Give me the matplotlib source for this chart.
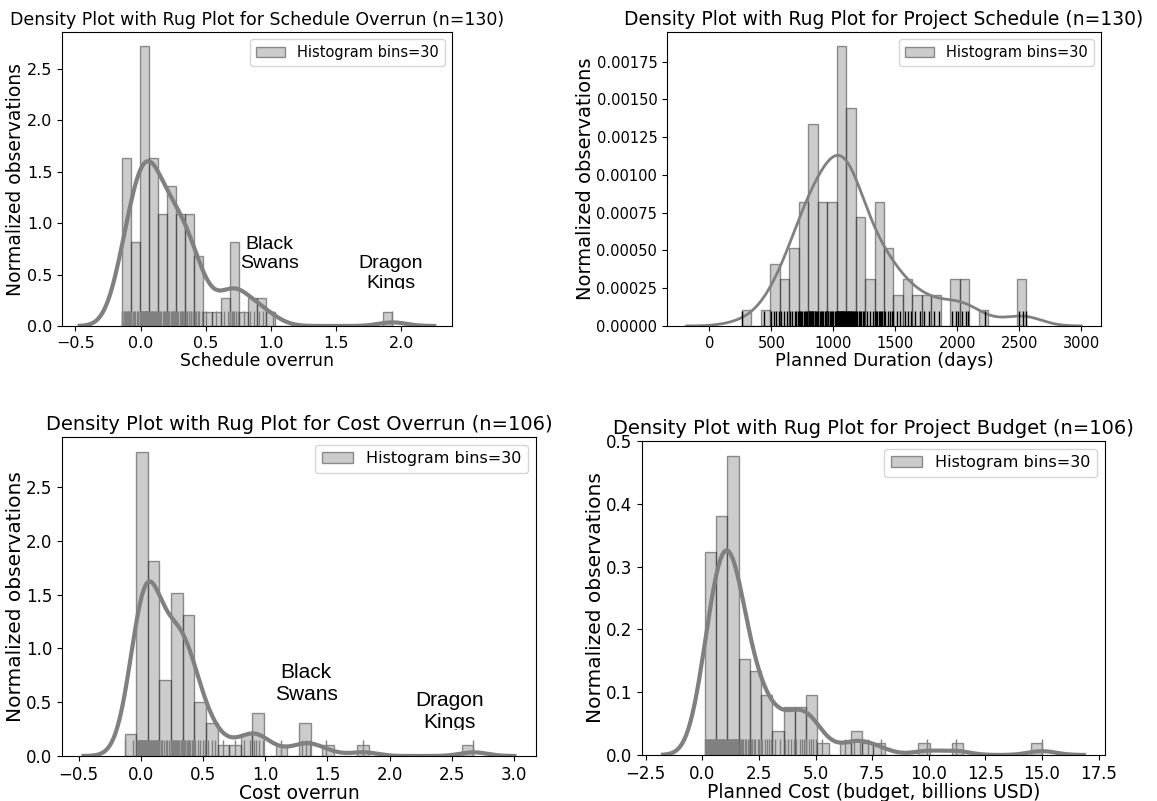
import numpy as np
import matplotlib.pyplot as plt
import seaborn as sns
from matplotlib.transforms import Bbox, TransformedBbox

schedule_overrun = [
    -0.146, -0.14, -0.13, -0.125, -0.12, -0.11, -0.105, -0.10, -0.095, -0.09, -0.085, -0.08,
    -0.07, -0.06, -0.05, -0.04, -0.03, -0.02,
    -0.005, 0.0, 0.0, 0.003, 0.008, 0.01, 0.013, 0.017, 0.02, 0.024,
    0.028, 0.031, 0.035, 0.038, 0.042, 0.045, 0.05, 0.053, 0.057, 0.06,
    0.065, 0.07, 0.075, 0.08, 0.085, 0.09, 0.095, 0.10, 0.108, 0.115, 0.12, 0.128,
    0.135, 0.14, 0.15, 0.16, 0.17, 0.18, 0.19, 0.197,
    0.205, 0.21, 0.215, 0.22, 0.23, 0.24, 0.245, 0.25, 0.26, 0.265,
    0.275, 0.28, 0.29, 0.30, 0.31, 0.32, 0.325, 0.335,
    0.345, 0.35, 0.36, 0.37, 0.375, 0.385, 0.39, 0.40,
    0.415, 0.425, 0.44, 0.45, 0.47,
    0.50, 0.58, 0.64, 0.67,
    0.69, 0.70, 0.71, 0.72, 0.73, 0.745,
    0.79, 0.84, 0.87, 0.91, 0.94, 1.02,
    1.933,
]

planned_duration = [
    262, 440,
    500, 520, 540, 560,
    580, 600, 630,
    650, 670, 690, 700, 715,
    725, 730, 740, 750, 760, 770, 780, 790,
    800, 805, 810, 815, 820, 825, 830, 835, 840, 850, 855, 860, 870,
    880, 890, 900, 910, 920, 930, 940, 945,
    955, 960, 970, 980, 990, 1000, 1010, 1020,
    1030, 1033, 1037, 1040, 1043, 1047, 1050, 1055, 1060, 1064, 1068, 1072, 1076, 1080,
    1085, 1090, 1095, 1100,
    1106, 1110, 1115, 1120, 1125, 1130, 1135, 1140, 1145, 1150, 1155, 1160, 1168, 1175,
    1185, 1195, 1205, 1215, 1225, 1240, 1250,
    1270, 1295, 1320,
    1337, 1345, 1355, 1365, 1375, 1385, 1395, 1405,
    1420, 1440, 1460, 1475, 1482,
    1510, 1540, 1580, 1600, 1625, 1660, 1700, 1730, 1770, 1810, 1850,
    1960, 1990, 2010, 2040, 2070, 2090, 2220,
    2500, 2530, 2556,
]

cost_overrun = [
    -0.13, -0.06,
    -0.03, -0.027, -0.024, -0.02, -0.017, -0.013, -0.01, -0.006, -0.003, 0.0,
    0.0, 0.002, 0.005, 0.008, 0.011, 0.014, 0.017, 0.02, 0.023, 0.026,
    0.029, 0.032, 0.035, 0.038, 0.041, 0.045, 0.048, 0.052,
    0.06, 0.065, 0.07, 0.075, 0.08, 0.085, 0.09, 0.095, 0.10, 0.105,
    0.11, 0.115, 0.12, 0.125, 0.13, 0.135, 0.14, 0.145,
    0.16, 0.17, 0.185, 0.20, 0.21, 0.225, 0.24,
    0.248, 0.255, 0.26, 0.265, 0.27, 0.275, 0.28, 0.29, 0.295, 0.30,
    0.305, 0.31, 0.32, 0.325, 0.333,
    0.341, 0.345, 0.35, 0.355, 0.36, 0.37, 0.375, 0.38, 0.39, 0.40, 0.41, 0.42, 0.428,
    0.44, 0.46, 0.48, 0.50, 0.52,
    0.54, 0.57, 0.60, 0.66, 0.76, 0.83, 0.88,
    0.91, 0.93, 0.95, 0.98,
    1.13, 1.30, 1.33, 1.36, 1.49, 1.79,
    2.675,
]

planned_cost = [
    0.12, 0.15, 0.18, 0.2, 0.23, 0.25, 0.28, 0.3, 0.33, 0.36, 0.4, 0.43, 0.46, 0.5, 0.53, 0.56, 0.6,
    0.62, 0.65, 0.67, 0.7, 0.72, 0.74, 0.76, 0.78, 0.8, 0.82,
    0.85, 0.87, 0.9, 0.92, 0.95, 0.98, 1.0, 1.03, 1.06, 1.1,
    1.12, 1.14, 1.16, 1.18, 1.2, 1.22, 1.24, 1.26, 1.28, 1.3, 1.32, 1.34, 1.36,
    1.38, 1.4, 1.42, 1.44, 1.46, 1.48, 1.5, 1.52, 1.54, 1.56, 1.58, 1.6,
    1.65, 1.7, 1.75, 1.8, 1.88, 1.95, 2.0, 2.08,
    2.15, 2.2, 2.3, 2.35, 2.45, 2.5, 2.58,
    2.65, 2.75, 2.85, 2.95, 3.05,
    3.2, 3.45,
    3.65, 3.8, 3.9, 4.05,
    4.15, 4.3, 4.4, 4.5,
    4.6, 4.7, 4.8, 4.9, 5.0,
    5.3, 6.3, 6.7, 6.95, 7.3, 7.9, 9.9, 11.2, 15.0,
]

titles = [
    "Density Plot with Rug Plot for Schedule Overrun (n=130)",
    "Density Plot with Rug Plot for Project Schedule (n=130)",
    "Density Plot with Rug Plot for Cost Overrun (n=106)",
    "Density Plot with Rug Plot for Project Budget (n=106)",
]
xlabels = ["Schedule overrun", "Planned Duration (days)",
           "Cost overrun", "Planned Cost (budget, billions USD)"]
ylabel = "Normalized observations"
legend_label = "Histogram bins=30"

W, H = 1157, 801
fig = plt.figure(figsize=(W / 100, H / 100), dpi=100)


def sm_bandwidth(x):
    # statsmodels "scott" rule, as used by the old seaborn distplot
    x = np.asarray(x, float)
    sd = x.std(ddof=1)
    iqr = np.percentile(x, 75) - np.percentile(x, 25)
    return 1.059 * min(sd, iqr / 1.349) * len(x) ** -0.2


def panel(box, data, title, xlabel, rug_color, kde_lw, tick_fs, label_fs,
          title_fs, leg_fs, xpad=1):
    l, t, r, b = box
    ax = fig.add_axes([l / W, 1 - b / H, (r - l) / W, (b - t) / H])
    x = np.asarray(data, float)
    ax.hist(x, bins=30, density=True, facecolor="gray", edgecolor="black",
            alpha=0.4, linewidth=1, label=legend_label)
    factor = sm_bandwidth(x) / x.std(ddof=1)
    sns.kdeplot(x=x, ax=ax, bw_method=factor, cut=3, gridsize=200,
                color="gray", lw=kde_lw)
    sns.rugplot(x=x, ax=ax, height=0.05, color=rug_color, lw=1,
                expand_margins=False)
    ax.set_ylim(bottom=0)
    ax.set_title(title, fontsize=title_fs, pad=5)
    ax.set_xlabel(xlabel, fontsize=label_fs, labelpad=xpad)
    ax.set_ylabel(ylabel, fontsize=label_fs + 1, labelpad=1)
    ax.tick_params(labelsize=tick_fs)
    ax.legend(loc="upper right", fontsize=leg_fs)
    return ax


def note(ax, x, y, txt, fs, clip_y=None):
    t = ax.text(x, y, txt, ha="center", va="center", fontsize=fs,
                family="Liberation Sans", linespacing=1.2)
    if clip_y is not None:
        bb = TransformedBbox(Bbox([[-10, clip_y], [100, 100]]), ax.transData)
        t.set_clip_box(bb)
        t.set_clip_on(True)


ax1 = panel((62, 32, 452, 326), schedule_overrun, titles[0], xlabels[0],
            "gray", 3, 11.5, 12.5, 12.5, 10.5)
note(ax1, 0.99, 0.70, "Black\nSwans", 14)
note(ax1, 1.92, 0.51, "Dragon\nKings", 14, clip_y=0.36)

ax2 = panel((667, 32, 1101, 326), planned_duration, titles[1], xlabels[1],
            "black", 2, 10.5, 13, 13.5, 10.5)

ax3 = panel((62, 437, 536, 756), cost_overrun, titles[2], xlabels[2],
            "gray", 3, 12, 13.5, 14, 11.5, xpad=0)
note(ax3, 1.33, 0.67, "Black\nSwans", 15)
note(ax3, 2.48, 0.415, "Dragon\nKings", 15, clip_y=0.245)

ax4 = panel((642, 441, 1105, 755), planned_cost, titles[3], xlabels[3],
            "gray", 3, 12, 13.5, 14, 11.5, xpad=0)
ax4.set_ylim(0, 0.5)

fig.savefig("out.png", dpi=100)
